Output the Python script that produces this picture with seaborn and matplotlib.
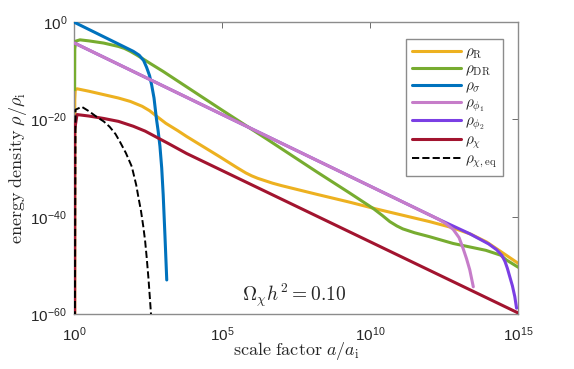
import numpy as np
import pandas as pd
import matplotlib
matplotlib.use("Agg")
import matplotlib.pyplot as plt
import seaborn as sns

# log10(a/a_i) and log10(rho/rho_i)
R_loga = [0.02, 0.025, 0.04, 0.1, 0.5, 1.0, 1.5, 1.9, 2.3, 2.55, 2.8, 3.1, 3.5, 3.8, 4.9, 5.5, 5.8, 6.0, 6.2, 6.4, 6.7, 7.0, 8.2, 9.3, 10.2, 12.0, 12.8, 13.4, 13.93, 14.49, 15.0]
R_logr = [-80, -16.0, -14.0, -13.7, -14.2, -14.9, -15.6, -16.3, -17.3, -18.2, -19.4, -20.8, -22.3, -23.5, -27.6, -29.9, -31.0, -31.6, -32.1, -32.5, -33.1, -33.6, -35.4, -37.0, -38.4, -41.0, -42.3, -43.6, -45.2, -47.5, -49.6]

DR_loga = [0.02, 0.025, 0.06, 0.2, 0.5, 1.0, 1.5, 1.7, 1.9, 2.1, 2.3, 2.6, 3.0, 5.0, 6.5, 8.2, 9.3, 9.8, 10.1, 10.4, 10.66, 10.9, 11.1, 11.5, 12.0, 12.8, 13.9, 14.4, 14.6, 15.0]
DR_logr = [-13.9, -5.5, -3.9, -3.64, -3.85, -4.3, -5.0, -5.4, -6.0, -6.7, -7.45, -8.6, -10.1, -18.1, -24.0, -30.8, -35.1, -37.1, -38.3, -39.7, -41.0, -41.9, -42.5, -43.3, -44.1, -45.5, -46.9, -47.9, -48.9, -50.4]

sig_loga = [0.0, 1.0, 2.0, 2.2, 2.35, 2.45, 2.55, 2.62, 2.7, 2.78, 2.84, 2.9, 2.96, 3.01, 3.07, 3.13]
sig_logr = [0.0, -3.0, -6.0, -6.8, -7.9, -9.3, -11.0, -12.9, -15.6, -19.8, -22.4, -25.5, -30.0, -35.5, -44.0, -53.0]

phi1_loga = [0.02, 12.3, 12.55, 12.8, 13.0, 13.14, 13.25, 13.36, 13.48]
phi1_logr = [-4.31, -40.5, -41.4, -42.6, -44.3, -46.6, -48.6, -50.9, -54.4]

phi2_loga = [0.02, 12.3, 13.36, 14.0, 14.27, 14.45, 14.55, 14.63, 14.71, 14.8, 14.88, 14.94]
phi2_logr = [-4.31, -40.5, -43.5, -45.6, -46.8, -48.0, -49.2, -50.6, -52.3, -54.2, -56.4, -58.8]

chi_loga = [0.02, 0.025, 0.1, 0.5, 1.0, 1.5, 2.0, 2.4, 2.8, 3.2, 3.8, 15.0]
chi_logr = [-80, -22.0, -19.0, -19.3, -19.8, -20.4, -21.4, -22.4, -23.7, -25.0, -27.0, -59.8]

eq_loga = [0.02, 0.05, 0.26, 0.5, 0.77, 1.0, 1.2, 1.4, 1.55, 1.75, 1.95, 2.1, 2.17, 2.26, 2.34, 2.4, 2.45, 2.51, 2.565, 2.62]
eq_logr = [-80, -18.0, -17.4, -18.3, -19.5, -20.4, -21.5, -23.0, -24.6, -26.9, -29.7, -33.5, -35.9, -38.8, -42.1, -45.0, -48.2, -52.5, -57.1, -62.0]

labels = [r"$\rho_\mathrm{R}$", r"$\rho_\mathrm{DR}$", r"$\rho_\sigma$", r"$\rho_{\phi_1}$",
          r"$\rho_{\phi_2}$", r"$\rho_\chi$", r"$\rho_{\chi,\mathrm{eq}}$"]
colors = ["#EDB120", "#77AC30", "#0072BD", "#C67DC9", "#7B3FE4", "#A2142F", "black"]

sns.set_theme(style="white")
plt.rcParams["font.family"] = ["Liberation Sans", "DejaVu Sans"]
plt.rcParams["mathtext.fontset"] = "cm"

fig = plt.figure(figsize=(5.74, 3.69), dpi=100)
ax = fig.add_axes([0.129, 0.149, 0.774, 0.791])

series = [
    (R_loga, R_logr), (DR_loga, DR_logr), (sig_loga, sig_logr), (phi1_loga, phi1_logr),
    (phi2_loga, phi2_logr), (chi_loga, chi_logr), (eq_loga, eq_logr),
]
# phi2 is drawn underneath phi1 so phi1 stays visible where they overlap
zorders = [2, 3, 4, 6, 5, 7, 8]
for (lx, ly), lab, col, z in zip(series, labels, colors, zorders):
    df = pd.DataFrame({"a": 10.0 ** np.array(lx), "rho": 10.0 ** np.array(ly)})
    dashed = lab.endswith(r"\mathrm{eq}}$")
    sns.lineplot(data=df, x="a", y="rho", ax=ax, color=col,
                 lw=1.4 if dashed else 2.2, linestyle="--" if dashed else "-",
                 sort=False, estimator=None, label=lab, zorder=z)
    ax.lines[-1].set_solid_joinstyle("round")

ax.set_xscale("log")
ax.set_yscale("log")
ax.set_xlim(1, 1e15)
ax.set_ylim(1e-60, 1)

ax.set_xticks([1, 1e5, 1e10, 1e15])
ax.set_xticklabels([r"$\mathregular{10^{0}}$", r"$\mathregular{10^{5}}$",
                    r"$\mathregular{10^{10}}$", r"$\mathregular{10^{15}}$"])
ax.set_yticks([1e-60, 1e-40, 1e-20, 1])
ax.set_yticklabels([r"$\mathregular{10^{-60}}$", r"$\mathregular{10^{-40}}$",
                    r"$\mathregular{10^{-20}}$", r"$\mathregular{10^{0}}$"])
ax.minorticks_off()
ax.tick_params(axis="both", which="major", direction="in", length=4, width=0.6,
               color="#555555", labelsize=11, labelcolor="#262626",
               top=True, right=True, pad=5)
ax.tick_params(axis="x", pad=8)

for sp in ax.spines.values():
    sp.set_color("#8c8c8c")
    sp.set_linewidth(1.0)

ax.set_xlabel(r"$\mathrm{scale\ factor}\ a/a_\mathrm{i}$", fontsize=13)
ax.set_ylabel(r"$\mathrm{energy\ density}\ \rho/\rho_\mathrm{i}$", fontsize=13, labelpad=1)
ax.xaxis.set_label_coords(0.5, -0.09)

ax.text(0.495, 0.065, r"$\Omega_\chi h^2 = 0.10$", transform=ax.transAxes,
        ha="center", va="center", fontsize=14)

leg = ax.legend(loc="upper right", bbox_to_anchor=(0.966, 0.942), borderaxespad=0,
                fontsize=11, frameon=True, fancybox=False, edgecolor="#8c8c8c",
                framealpha=1, handlelength=3.2, handletextpad=0.3,
                labelspacing=0.08, borderpad=0.4)
leg.get_frame().set_linewidth(1.0)

fig.savefig("out.png", dpi=100)
